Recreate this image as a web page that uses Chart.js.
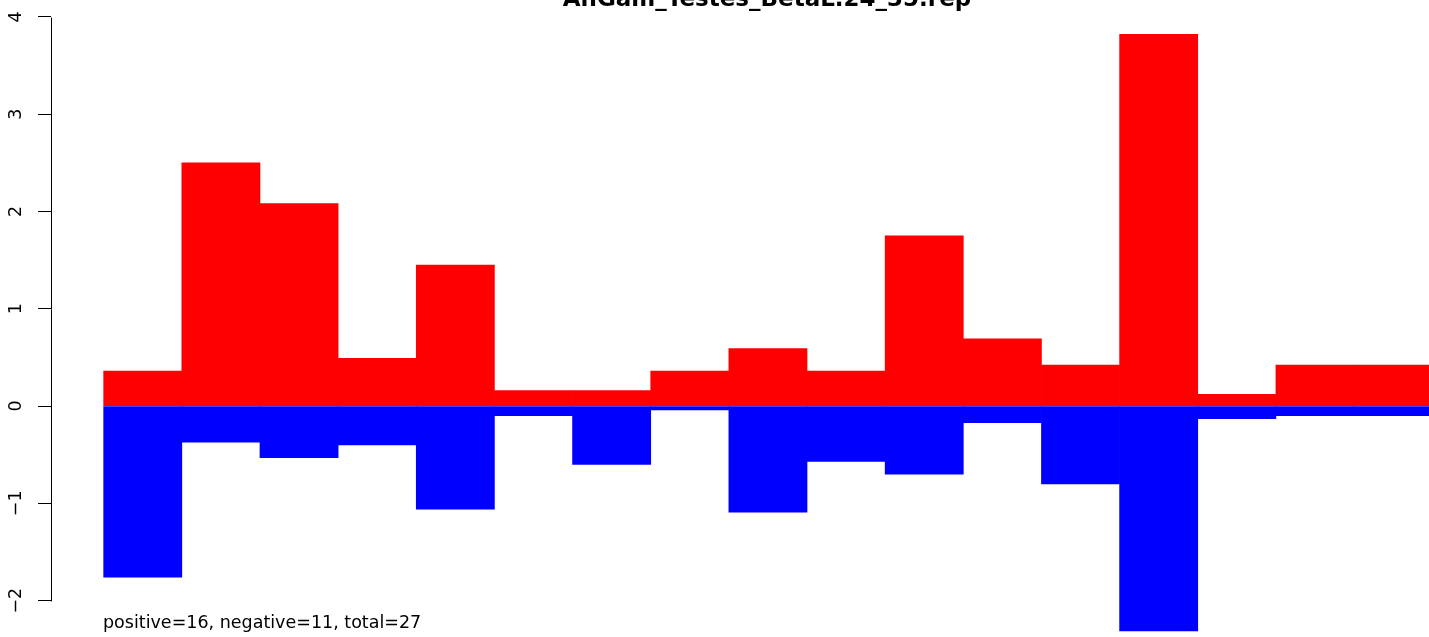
<!DOCTYPE html>
<html>
<head>
<meta charset="utf-8">
<title>AnGam_Testes_BetaL.24_35.rep</title>
<script src="https://cdn.jsdelivr.net/npm/chart.js@4"></script>
<style>
  html, body { margin: 0; padding: 0; background: #fff; }
  #wrap { width: 1429px; height: 637px; }
</style>
</head>
<body>
<div id="wrap"><canvas id="plot" width="1429" height="637"></canvas></div>
<script>
const chartTitle = "AnGam_Testes_BetaL.24_35.rep";
const footNote = "positive=16, negative=11, total=27";

// bins along x (one bar each)
const bins = [1, 2, 3, 4, 5, 6, 7, 8, 9, 10, 11, 12, 13, 14, 15, 16, 17];
const positive = [0.36, 2.50, 2.08, 0.49, 1.45, 0.16, 0.16, 0.36, 0.59, 0.36, 1.75, 0.69, 0.42, 3.82, 0.12, 0.42, 0.42];
const negative = [-1.76, -0.37, -0.53, -0.40, -1.06, -0.10, -0.60, -0.04, -1.09, -0.57, -0.70, -0.17, -0.80, -2.31, -0.13, -0.10, -0.10];

const tickValues = [-2, -1, 0, 1, 2, 3, 4];
const tickLabels = ["\u22122", "\u22121", "0", "1", "2", "3", "4"];

const FONT = "'DejaVu Sans', 'Liberation Sans', Arial, sans-serif";

const points = (vals) => bins.map((b, i) => ({ x: b, y: vals[i] }));

// R-style axis: line only from first to last tick, labels rotated
const rAxis = {
  id: "rAxis",
  afterDraw(chart) {
    const { ctx, scales: { y }, chartArea } = chart;
    const axX = chartArea.left;
    ctx.save();
    ctx.strokeStyle = "#000";
    ctx.lineWidth = 1;
    ctx.beginPath();
    ctx.moveTo(axX + 0.5, Math.round(y.getPixelForValue(tickValues[0])) + 0.5);
    ctx.lineTo(axX + 0.5, Math.round(y.getPixelForValue(tickValues[tickValues.length - 1])) + 0.5);
    ctx.stroke();

    ctx.fillStyle = "#000";
    ctx.font = "17.5px " + FONT;
    ctx.textAlign = "center";
    ctx.textBaseline = "alphabetic";
    y.ticks.forEach((t, i) => {
      const py = y.getPixelForValue(t.value);
      ctx.save();
      ctx.translate(21, py);
      ctx.rotate(-Math.PI / 2);
      ctx.fillText(tickLabels[i], 0, 0);
      ctx.restore();
    });

    // title (sits in the top margin, mostly cut off)
    ctx.font = "bold 23px " + FONT;
    ctx.textAlign = "center";
    ctx.fillText(chartTitle, 767, 6);

    // count note under the bars
    ctx.font = "17.5px " + FONT;
    ctx.textAlign = "left";
    ctx.fillText(footNote, 103, 628);
    ctx.restore();
  }
};

new Chart(document.getElementById("plot"), {
  type: "bar",
  data: {
    datasets: [
      { label: "positive", data: points(positive), backgroundColor: "#ff0000", borderWidth: 0, grouped: false },
      { label: "negative", data: points(negative), backgroundColor: "#0000ff", borderWidth: 0, grouped: false }
    ]
  },
  options: {
    responsive: false,
    devicePixelRatio: 1,
    animation: false,
    layout: { padding: 0 },
    barPercentage: 1,
    categoryPercentage: 1,
    plugins: { legend: { display: false }, title: { display: false }, tooltip: { enabled: false } },
    scales: {
      x: {
        type: "linear",
        min: -0.174,
        max: 17.459,
        offset: false,
        display: false,
        grid: { display: false, offset: false }
      },
      y: {
        min: -2.3737,
        max: 4.1733,
        afterBuildTicks: (s) => { s.ticks = tickValues.map(v => ({ value: v })); },
        afterFit: (s) => { s.width = 51; },
        ticks: { display: false },
        border: { display: false },
        grid: { drawOnChartArea: false, drawTicks: true, tickLength: 13, color: "#000", lineWidth: 1 }
      }
    }
  },
  plugins: [rAxis]
});
</script>
</body>
</html>
